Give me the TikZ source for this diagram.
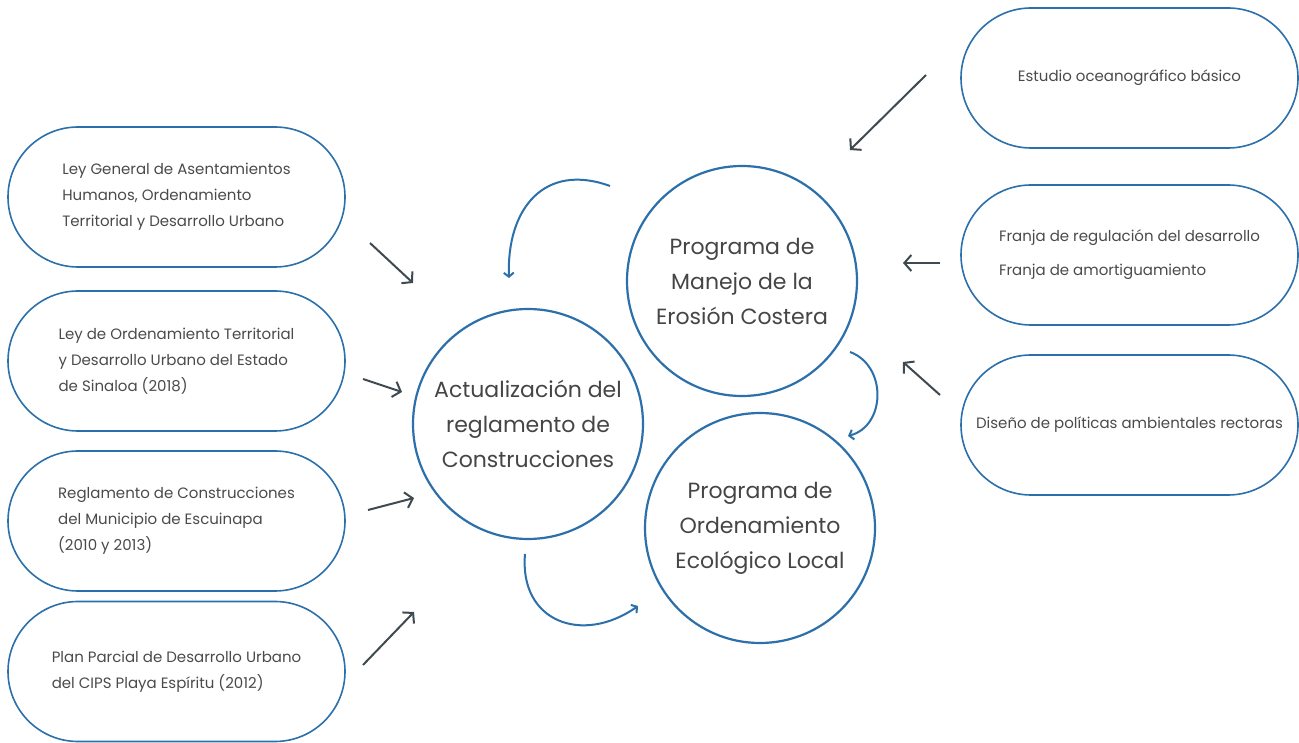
\documentclass[tikz,border=0pt]{standalone}
\usepackage{fontspec}
\setmainfont{Poppins}
\usetikzlibrary{arrows.meta}
\definecolor{ringblue}{HTML}{2B6FAB}
\definecolor{txtgray}{HTML}{4A4A4A}
\definecolor{ringtxt}{HTML}{454545}
\definecolor{arrowgray}{HTML}{3E4A50}

\begin{document}
\begin{tikzpicture}[x=1pt, y=1pt,
  pill/.style={draw=ringblue, line width=1.6pt, rounded corners=70pt,
    minimum width=337pt, minimum height=140pt, align=left, text=txtgray,
    font=\fontsize{15}{26}\selectfont},
  ring/.style={circle, draw=ringblue, line width=2.2pt, minimum size=230pt,
    align=center, text=ringtxt, font=\fontsize{22}{35}\selectfont},
  inarrow/.style={draw=arrowgray, line width=2pt,
    -{Straight Barb[length=7pt,width=16pt]}},
  bluecurve/.style={draw=ringblue, line width=2pt,
    -{Straight Barb[length=4pt,width=10pt]}}]
  \useasboundingbox (0,0) rectangle (1299,742);

  % circles
  \node[ring] (act) at (528,318) {Actualización del\\reglamento de\\Construcciones};
  \node[ring] (man) at (742,461) {Programa de\\Manejo de la\\Erosión Costera};
  \node[ring] (ord) at (760,214) {Programa de\\Ordenamiento\\Ecológico Local};

  % left pills
  \node[pill] (ley1) at (176.5,545) {Ley General de Asentamientos\\Humanos, Ordenamiento\\Territorial y Desarrollo Urbano};
  \node[pill] (ley2) at (176.5,381) {Ley de Ordenamiento Territorial\\y Desarrollo Urbano del Estado\\de Sinaloa (2018)};
  \node[pill] (regl) at (176.5,221) {Reglamento de Construcciones\\del Municipio de Escuinapa\\(2010 y 2013)};
  \node[pill] (plan) at (176.5,70.5) {Plan Parcial de Desarrollo Urbano\\del CIPS Playa Espíritu (2012)};

  % right pills
  \node[pill] (estu) at (1129.5,664) {Estudio oceanográfico básico};
  \node[pill, font=\fontsize{15}{34}\selectfont] (fran) at (1129.5,487) {Franja de regulación del desarrollo\\Franja de amortiguamiento};
  \node[pill] (dise) at (1129.5,317) {Diseño de políticas ambientales rectoras};

  % arrow ends
  \coordinate (ley1o) at (370,499); \coordinate (ley1i) at (413,459);
  \coordinate (ley2o) at (363,363); \coordinate (ley2i) at (402,350);
  \coordinate (reglo) at (368,232); \coordinate (regli) at (414,244);
  \coordinate (plano) at (363,77);  \coordinate (plani) at (414,130);
  \coordinate (estuo) at (926,667); \coordinate (estui) at (850,592);
  \coordinate (frano) at (940,479); \coordinate (frani) at (903,479);
  \coordinate (diseo) at (940,347); \coordinate (disei) at (903,380);

  \draw[inarrow] (ley1o) -- (ley1i);
  \draw[inarrow] (ley2o) -- (ley2i);
  \draw[inarrow] (reglo) -- (regli);
  \draw[inarrow] (plano) -- (plani);
  \draw[inarrow] (estuo) -- (estui);
  \draw[inarrow] (frano) -- (frani);
  \draw[inarrow] (diseo) -- (disei);

  % links between circles
  \coordinate (manact) at (610,556); \coordinate (actman) at (509,464);
  \coordinate (manord) at (850,390); \coordinate (ordman) at (848,306);
  \coordinate (actord) at (525,188); \coordinate (ordact) at (638,136);

  \draw[bluecurve] (manact) to[out=160, in=92, looseness=1.3] (actman);
  \draw[bluecurve] (manord) to[out=-20, in=15, looseness=1.2] (ordman);
  \draw[bluecurve] (actord) to[out=-95, in=215, looseness=1.4] (ordact);
\end{tikzpicture}
\end{document}
